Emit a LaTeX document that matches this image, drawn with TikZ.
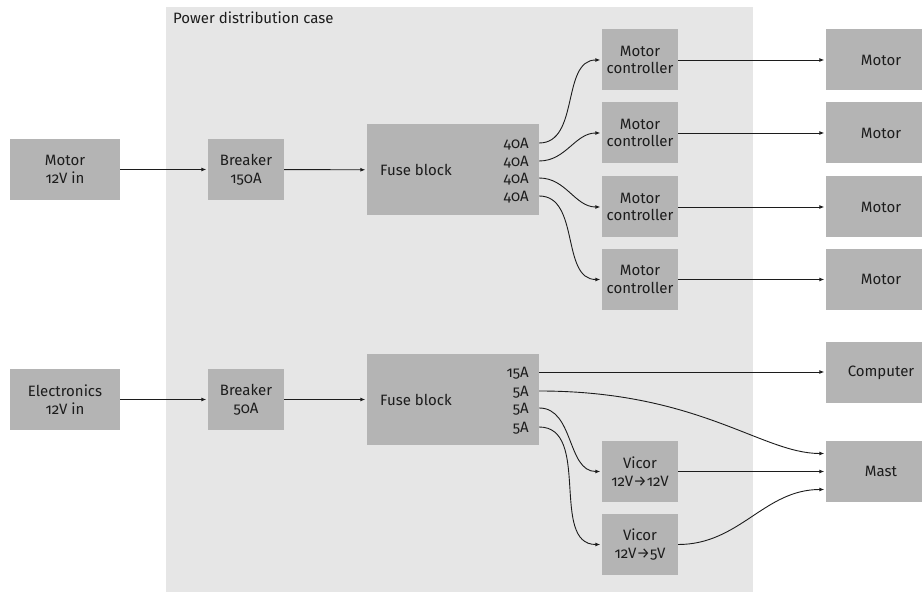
\documentclass[tikz,border=0pt]{standalone}
\usepackage{fontspec}
\setmainfont{Fira Sans}[Numbers=OldStyle]
\usetikzlibrary{arrows.meta}
\definecolor{boxgray}{RGB}{180,180,180}
\definecolor{casegray}{RGB}{230,230,230}
\definecolor{inkgray}{RGB}{28,28,28}

\begin{document}
\begin{tikzpicture}[x=1pt,y=-1pt,
    every node/.style={font=\fontsize{15}{17.7}\selectfont, text=inkgray},
    box/.style={fill=boxgray, inner sep=0pt, align=center, minimum height=61pt},
    inbox/.style={box, minimum width=110pt},
    midbox/.style={box, minimum width=76pt},
    fusebox/.style={fill=boxgray, inner sep=0pt, minimum width=172pt, minimum height=91pt},
    amp/.style={inner sep=0pt, anchor=east, text height=10.5pt, text depth=0pt},
    wire/.style={draw=inkgray, line width=0.9pt, -{Latex[length=5pt,width=4pt]}, shorten >=1.5pt}]
    \useasboundingbox (0,0) rectangle (922,593);
    \clip (0,0) rectangle (922,593);

    % the case
    \node[fill=casegray, minimum width=587pt, minimum height=585pt] (case) at (459.5,299.5) {};
    \node[anchor=west, inner sep=0pt] (caselabel) at (173,18) {Power distribution case};

    % motor side
    \node[inbox] (motin) at (65,169.5) {Motor\\12V in};
    \node[midbox] (brk1) at (246,169.5) {Breaker\\150A};
    \node[fusebox] (fuse1) at (453,170) {};
    \node[anchor=west, inner sep=0pt] (fuse1lbl) at (380,170) {Fuse block};
    \node[amp] (m1) at (529,143) {40A};
    \node[amp] (m2) at (529,161) {40A};
    \node[amp] (m3) at (529,178) {40A};
    \node[amp] (m4) at (529,196) {40A};

    \node[midbox] (ctl1) at (640,60) {Motor\\controller};
    \node[midbox] (ctl2) at (640,133) {Motor\\controller};
    \node[midbox] (ctl3) at (640,207) {Motor\\controller};
    \node[midbox] (ctl4) at (640,279.5) {Motor\\controller};
    \node[inbox] (mot1) at (881,60) {Motor};
    \node[inbox] (mot2) at (881,133) {Motor};
    \node[inbox] (mot3) at (881,207) {Motor};
    \node[inbox] (mot4) at (881,279.5) {Motor};

    \draw[wire] (motin) -- (brk1);
    \draw[wire] (brk1) -- (fuse1);
    \draw[wire] (fuse1.east |- m1) to[out=0,in=180] (ctl1.west);
    \draw[wire] (fuse1.east |- m2) to[out=0,in=180] (ctl2.west);
    \draw[wire] (fuse1.east |- m3) to[out=0,in=180] (ctl3.west);
    \draw[wire] (fuse1.east |- m4) to[out=0,in=180] (ctl4.west);
    \draw[wire] (ctl1) -- (mot1);
    \draw[wire] (ctl2) -- (mot2);
    \draw[wire] (ctl3) -- (mot3);
    \draw[wire] (ctl4) -- (mot4);

    % electronics side
    \node[inbox] (elin) at (65,399.5) {Electronics\\12V in};
    \node[midbox] (brk2) at (246,399.5) {Breaker\\50A};
    \node[fusebox] (fuse2) at (453,399.5) {};
    \node[anchor=west, inner sep=0pt] (fuse2lbl) at (380,399.5) {Fuse block};
    \node[amp] (e1) at (529,372) {15A};
    \node[amp] (e2) at (529,391) {5A};
    \node[amp] (e3) at (529,408) {5A};
    \node[amp] (e4) at (529,427) {5A};

    \node[midbox] (vic1) at (640,471.5) {Vicor\\12V→12V};
    \node[midbox] (vic2) at (640,544.5) {Vicor\\12V→5V};
    \node[inbox] (comp) at (881,373) {Computer};
    \node[inbox] (mast) at (881,471.5) {Mast};

    \draw[wire] (elin) -- (brk2);
    \draw[wire] (brk2) -- (fuse2);
    \draw[wire] (fuse2.east |- e1) -- (comp.west |- e1);
    \draw[wire] (fuse2.east |- e2) .. controls +(160,0) and +(-64,0) .. ([yshift=18pt]mast.west);
    \draw[wire] (fuse2.east |- e3) to[out=0,in=180] (vic1.west);
    \draw[wire] (fuse2.east |- e4) to[out=0,in=180] (vic2.west);
    \draw[wire] (vic1) -- (mast);
    \draw[wire] (vic2.east) to[out=0,in=180] ([yshift=-18pt]mast.west);
\end{tikzpicture}
\end{document}
